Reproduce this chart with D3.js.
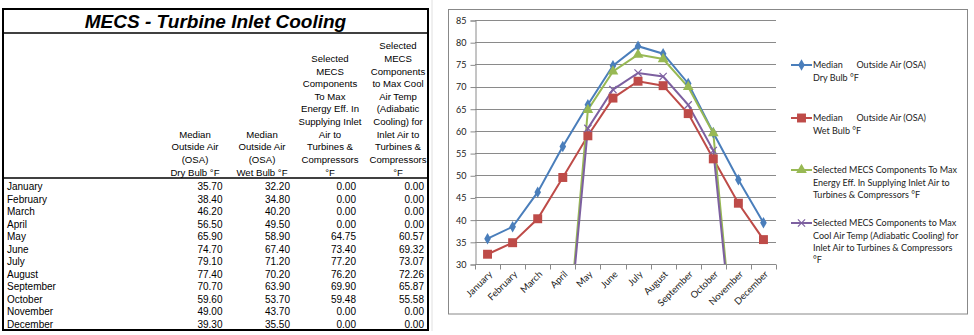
<!DOCTYPE html>
<html><head><meta charset="utf-8">
<script src="https://cdn.jsdelivr.net/npm/d3@7"></script>
<style>
html,body{margin:0;padding:0;background:#fff;}
svg{display:block;}
</style></head>
<body>
<svg id="c" width="974" height="335"></svg>
<script>
const months = ["January","February","March","April","May","June","July","August","September","October","November","December"];
const dryBulb = [35.7,38.4,46.2,56.5,65.9,74.7,79.1,77.4,70.7,59.6,49.0,39.3];
const wetBulb = [32.2,34.8,40.2,49.5,58.9,67.4,71.2,70.2,63.9,53.7,43.7,35.5];
const maxEnergy = [0,0,0,0,64.75,73.4,77.2,76.2,69.9,59.48,0,0];
const maxCool = [0,0,0,0,60.57,69.32,73.07,72.26,65.87,55.58,0,0];
const yTicks = [30,35,40,45,50,55,60,65,70,75,80,85];
const tableTitle = "MECS - Turbine Inlet Cooling";
const colHeaders = [
  ["Median","Outside Air","(OSA)","Dry Bulb °F"],
  ["Median","Outside Air","(OSA)","Wet Bulb °F"],
  ["Selected","MECS","Components","To Max","Energy Eff. In","Supplying Inlet","Air to","Turbines &","Compressors","°F"],
  ["Selected","MECS","Components","to Max Cool","Air Temp","(Adiabatic","Cooling) for","Inlet Air to","Turbines &","Compressors","°F"]
];
const legendLabels = [
  ["Median      Outside Air (OSA)","Dry Bulb °F"],
  ["Median      Outside Air (OSA)","Wet Bulb °F"],
  ["Selected MECS Components To Max","Energy Eff. In Supplying Inlet Air to","Turbines & Compressors °F"],
  ["Selected MECS Components to Max","Cool Air Temp (Adiabatic Cooling) for","Inlet Air to Turbines & Compressors","°F"]
];
const colors = ["#4A7EBB","#BE4B48","#98B954","#7D60A0"];

const svg = d3.select("#c");
const series = [dryBulb, wetBulb, maxEnergy, maxCool];

// ---------- TABLE ----------
const tf = "'Liberation Sans', Arial, sans-serif";
const T = {x0:3, x1:428, y0:9, yTitle:33, yHead:178, y1:330};
const tg = svg.append("g");
tg.append("rect").attr("x",T.x0).attr("y",T.y0).attr("width",T.x1-T.x0).attr("height",T.y1-T.y0)
  .attr("fill","#fff").attr("stroke","#000").attr("stroke-width",2);
tg.append("line").attr("x1",T.x0).attr("x2",T.x1).attr("y1",T.yTitle).attr("y2",T.yTitle).attr("stroke","#000").attr("stroke-width",1.5);
tg.append("line").attr("x1",T.x0).attr("x2",T.x1).attr("y1",T.yHead).attr("y2",T.yHead).attr("stroke","#000").attr("stroke-width",1.5);
tg.append("text").attr("x",(T.x0+T.x1)/2).attr("y",28).attr("text-anchor","middle")
  .attr("font-family",tf).attr("font-size",19).attr("font-weight","bold").attr("font-style","italic")
  .text(tableTitle);
const colCenters = [195,262,330,398];
const colRights = [222.5,290,356,424];
const lineH = 12.65;
colHeaders.forEach((lines,i)=>{
  const n = lines.length;
  lines.forEach((s,j)=>{
    tg.append("text").attr("x",colCenters[i]).attr("y",171.7+4 - (n-1-j)*lineH)
      .attr("text-anchor","middle").attr("font-family",tf).attr("font-size",9.6).attr("fill","#000").text(s);
  });
});
const fmt = d3.format(".2f");
const rowY = d3.scalePoint().domain(months).range([186.7,324]);
months.forEach((m,r)=>{
  const y = rowY(m)+3.6;
  tg.append("text").attr("x",7).attr("y",y).attr("font-family",tf).attr("font-size",10).text(m);
  series.forEach((s,i)=>{
    tg.append("text").attr("x",colRights[i]).attr("y",y).attr("text-anchor","end")
      .attr("font-family",tf).attr("font-size",10).text(fmt(s[r]));
  });
});
svg.append("line").attr("x1",432).attr("x2",432).attr("y1",0).attr("y2",331).attr("stroke","#e0e0e0");

// ---------- CHART ----------
const cf = "Lato, 'Open Sans', sans-serif";
svg.append("rect").attr("x",448.5).attr("y",9.5).attr("width",519).attr("height",304.5)
  .attr("fill","#fff").attr("stroke","#888");
const P = {l:475, r:776, t:20, b:264};
const x = d3.scaleBand().domain(months).range([P.l,P.r]);
const y = d3.scaleLinear().domain([30,85]).range([P.b,P.t]);
const cg = svg.append("g");
// grid
cg.selectAll(".grid").data(yTicks.slice(1)).join("line")
  .attr("x1",P.l).attr("x2",P.r).attr("y1",d=>Math.round(y(d))+0.5).attr("y2",d=>Math.round(y(d))+0.5)
  .attr("stroke","#8a8a8a").attr("stroke-width",1);
// y axis
const yAxis = d3.axisLeft(y).tickValues(yTicks).tickSize(5).tickPadding(4);
const ya = cg.append("g").attr("transform",`translate(${P.l+0.5},0.5)`).call(yAxis);
ya.select(".domain").attr("stroke","#8a8a8a");
ya.selectAll(".tick line").attr("stroke","#8a8a8a");
ya.selectAll("text").attr("font-family",cf).attr("font-size",9).attr("fill","#222");
// x axis
const xa = cg.append("g").attr("transform",`translate(0,${P.b+0.5})`);
xa.append("line").attr("x1",P.l).attr("x2",P.r).attr("stroke","#8a8a8a");
const bounds = months.map(m=>x(m)).concat([P.r]);
xa.selectAll(".xt").data(bounds).join("line").attr("x1",d=>Math.round(d)+0.5).attr("x2",d=>Math.round(d)+0.5)
  .attr("y1",0).attr("y2",5).attr("stroke","#8a8a8a");
xa.selectAll(".xl").data(months).join("text")
  .attr("transform",d=>`translate(${x(d)+x.bandwidth()/2+3},8) rotate(-45)`)
  .attr("text-anchor","end").attr("dy","0.35em").attr("font-family",cf).attr("font-size",9.5).attr("fill","#222")
  .text(d=>d);

// clip
svg.append("clipPath").attr("id","pc").append("rect").attr("x",P.l).attr("y",P.t-8).attr("width",P.r-P.l+10).attr("height",P.b-P.t+8);
const lg = cg.append("g").attr("clip-path","url(#pc)");
const line = d3.line().x((d,i)=>x(months[i])+x.bandwidth()/2).y(d=>y(d));
const markerPath = [
  d3.symbol(d3.symbolDiamond, 38)(),
  d3.symbol(d3.symbolSquare, 80)(),
  d3.symbol(d3.symbolTriangle, 50)(),
  null
];
function drawMarker(g, i, cx, cy){
  if(i===3){
    const s=3.6;
    g.append("path").attr("d",`M${cx-s},${cy-s}L${cx+s},${cy+s}M${cx-s},${cy+s}L${cx+s},${cy-s}`)
      .attr("stroke",colors[i]).attr("stroke-width",1.2).attr("fill","none");
  } else {
    g.append("path").attr("d",markerPath[i]).attr("transform",`translate(${cx},${cy})`).attr("fill",colors[i]);
  }
}
series.forEach((s,i)=>{
  lg.append("path").datum(s).attr("d",line).attr("fill","none").attr("stroke",colors[i]).attr("stroke-width",2);
});
series.forEach((s,i)=>{
  s.forEach((v,k)=>{ if(v>=30) drawMarker(lg,i,x(months[k])+x.bandwidth()/2,y(v)); });
});

// legend
const legY = [65,118,170,223];
const leg = svg.append("g");
legendLabels.forEach((lines,i)=>{
  const g = leg.append("g");
  g.append("line").attr("x1",791).attr("x2",812).attr("y1",legY[i]).attr("y2",legY[i]).attr("stroke",colors[i]).attr("stroke-width",2);
  drawMarker(g,i,801.5,legY[i]);
  lines.forEach((t,j)=>{
    g.append("text").attr("x",813).attr("y",legY[i]+3.3+j*12.3).attr("font-family",cf).attr("font-size",9)
      .attr("fill","#222").attr("xml:space","preserve").style("white-space","pre").text(t);
  });
});
</script>
</body></html>
